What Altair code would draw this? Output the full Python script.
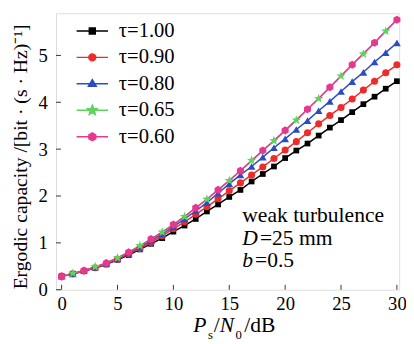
import math
import altair as alt
import pandas as pd

# ---------------- data ----------------
snr_db = list(range(31))
series_names = ["τ=1.00", "τ=0.90", "τ=0.80", "τ=0.65", "τ=0.60"]
tau_100 = [0.29, 0.34, 0.40, 0.46, 0.54, 0.64, 0.74, 0.86, 0.98, 1.10, 1.24, 1.37, 1.51, 1.67, 1.82,
           1.98, 2.13, 2.31, 2.47, 2.63, 2.81, 2.97, 3.12, 3.29, 3.46, 3.62, 3.79, 3.96, 4.12, 4.29, 4.45]
tau_090 = [0.29, 0.34, 0.40, 0.47, 0.55, 0.65, 0.76, 0.88, 1.01, 1.15, 1.30, 1.45, 1.61, 1.77, 1.94,
           2.11, 2.28, 2.45, 2.62, 2.80, 2.98, 3.16, 3.35, 3.54, 3.72, 3.89, 4.07, 4.26, 4.45, 4.63, 4.80]
tau_080 = [0.29, 0.34, 0.41, 0.48, 0.56, 0.66, 0.78, 0.91, 1.04, 1.19, 1.34, 1.51, 1.68, 1.86, 2.06,
           2.26, 2.45, 2.63, 2.83, 3.03, 3.22, 3.42, 3.61, 3.82, 4.02, 4.23, 4.44, 4.64, 4.86, 5.06, 5.27]
tau_065 = [0.29, 0.35, 0.41, 0.49, 0.57, 0.68, 0.80, 0.94, 1.08, 1.23, 1.39, 1.56, 1.74, 1.93, 2.13,
           2.33, 2.54, 2.76, 2.97, 3.18, 3.40, 3.62, 3.85, 4.08, 4.32, 4.56, 4.80, 5.03, 5.27, 5.52, 5.76]
tau_060 = [0.28, 0.34, 0.41, 0.48, 0.57, 0.68, 0.80, 0.93, 1.08, 1.23, 1.39, 1.56, 1.75, 1.93, 2.13,
           2.33, 2.54, 2.75, 2.97, 3.18, 3.40, 3.62, 3.85, 4.08, 4.32, 4.56, 4.80, 5.04, 5.27, 5.52, 5.76]
all_series = [tau_100, tau_090, tau_080, tau_065, tau_060]

x_ticks = [0, 5, 10, 15, 20, 25, 30]
y_ticks = [0, 1, 2, 3, 4, 5]

# ---------------- styles ----------------
colors = ["#000000", "#ee2b2b", "#2b4cc4", "#5fd35f", "#e6388f"]
FONT = "Liberation Serif"
W, H = 350, 282


def star_path(r_out, r_in):
    pts = []
    for k in range(10):
        r = r_out if k % 2 == 0 else r_in
        a = math.radians(-90 + 36 * k)
        pts.append(f"{r * math.cos(a):.3f},{r * math.sin(a):.3f}")
    return "M" + "L".join(pts) + "Z"


def hex_path(r):
    pts = []
    for k in range(6):
        a = math.radians(-90 + 60 * k)
        pts.append(f"{r * math.cos(a):.3f},{r * math.sin(a):.3f}")
    return "M" + "L".join(pts) + "Z"


def circle_path(r):
    return f"M{-r},0A{r},{r},0,1,0,{r},0A{r},{r},0,1,0,{-r},0Z"


plot_shapes = ["square", "circle", "triangle-up", star_path(1, 0.42), hex_path(1)]
plot_sizes = [34, 52, 62, 100, 68]
line_seg = "M-1,0L1,0"
legend_shapes = [
    line_seg + "M-0.19,-0.19L0.19,-0.19L0.19,0.19L-0.19,0.19Z",
    line_seg + circle_path(0.22),
    line_seg + "M0,-0.27L0.25,0.16L-0.25,0.16Z",
    line_seg + star_path(0.32, 0.14),
    line_seg + hex_path(0.25),
]

rows = []
for name, vals in zip(series_names, all_series):
    for xv, yv in zip(snr_db, vals):
        rows.append({"x": xv, "y": yv, "series": name})
df = pd.DataFrame(rows)

x_scale = alt.Scale(domain=[-0.5, 30.2], nice=False, zero=False)
y_scale = alt.Scale(domain=[0, 5.9], nice=False, zero=False)

x_enc = alt.X("x:Q", scale=x_scale,
              axis=alt.Axis(values=x_ticks, title=None, grid=False, domain=False, tickSize=0,
                            labelFont=FONT, labelFontSize=19, labelColor="black", labelPadding=5,
                            labelFlush=False))
y_enc = alt.Y("y:Q", scale=y_scale,
              axis=alt.Axis(values=y_ticks, title="Ergodic capacity /[bit · (s · Hz)⁻¹]", grid=False,
                            domain=False, tickSize=0, labelFont=FONT, labelFontSize=19,
                            labelColor="black", labelPadding=9, labelFlush=False,
                            titleFont=FONT, titleFontSize=20, titleFontWeight="normal",
                            titleColor="black", titlePadding=8, titleY=146))

lines = alt.Chart(df).mark_line(strokeWidth=1.5).encode(
    x=x_enc, y=y_enc,
    color=alt.Color("series:N", scale=alt.Scale(domain=series_names, range=colors), legend=None),
    order=alt.Order("x:Q"),
)

marker_layers = []
for i, name in enumerate(series_names):
    base = alt.Chart(df).transform_filter(alt.datum.series == name)
    if i == 3:
        base = base.transform_filter("datum.x % 2 == 1")
    if i == 4:
        base = base.transform_filter("datum.x % 2 == 0")
    marker_layers.append(
        base.mark_point(filled=True, opacity=1, shape=plot_shapes[i], size=plot_sizes[i],
                        color=colors[i]).encode(x="x:Q", y="y:Q")
    )

legend_kw = dict(orient="none", legendX=20, legendY=1, title=None, labelFont=FONT,
                 labelFontSize=21, labelColor="black", symbolSize=1024, symbolStrokeWidth=1.5,
                 symbolOpacity=1, labelOffset=10, rowPadding=-12, padding=0)
legend_layer = alt.Chart(df).mark_point(opacity=0, size=1024, strokeWidth=1.5).encode(
    x="x:Q", y="y:Q",
    fill=alt.Fill("series:N", scale=alt.Scale(domain=series_names, range=colors),
                  legend=alt.Legend(**legend_kw)),
    stroke=alt.Stroke("series:N", scale=alt.Scale(domain=series_names, range=colors),
                      legend=alt.Legend(**legend_kw)),
    shape=alt.Shape("series:N", scale=alt.Scale(domain=series_names, range=legend_shapes),
                    legend=alt.Legend(**legend_kw)),
)

# inward ticks
xt = alt.Chart(pd.DataFrame({"x": x_ticks})).mark_rule(color="#333333", strokeWidth=1).encode(
    x="x:Q", y=alt.value(H), y2=alt.value(H - 5))
yt = alt.Chart(pd.DataFrame({"y": y_ticks})).mark_rule(color="#333333", strokeWidth=1).encode(
    y="y:Q", x=alt.value(0), x2=alt.value(5))


def txt(s, x, y, size=22, style="normal"):
    return alt.Chart(pd.DataFrame({"t": [s]})).mark_text(
        font=FONT, fontSize=size, fontStyle=style, align="left", baseline="alphabetic",
        color="black").encode(x=alt.value(x), y=alt.value(y), text="t:N")


annotations = [
    txt("weak turbulence", 190, 213),
    txt("D", 190, 236, style="italic"),
    txt("=25 mm", 208, 236),
    txt("b", 190, 259, style="italic"),
    txt("=0.5", 203, 259),
    # x-axis title: P_s/N_0 /dB
    txt("P", 140, 325, style="italic"),
    txt("s", 155, 332, size=13),
    txt("/", 161, 325),
    txt("N", 167, 325, style="italic"),
    txt("0", 183, 332, size=13),
    txt("/dB", 192, 325),
]

chart = alt.layer(
    legend_layer, lines, *marker_layers, xt, yt, *annotations
).resolve_scale(
    color="independent", fill="independent", stroke="independent", shape="independent"
).properties(
    width=W, height=H,
    autosize=alt.AutoSizeParams(type="none"),
    padding={"left": 49, "top": 2, "right": 7, "bottom": 52},
).configure_view(
    stroke="#333333", strokeWidth=1.5
).configure(background="white")

chart.save("out.html", embed_options={"renderer": "svg", "actions": False})
